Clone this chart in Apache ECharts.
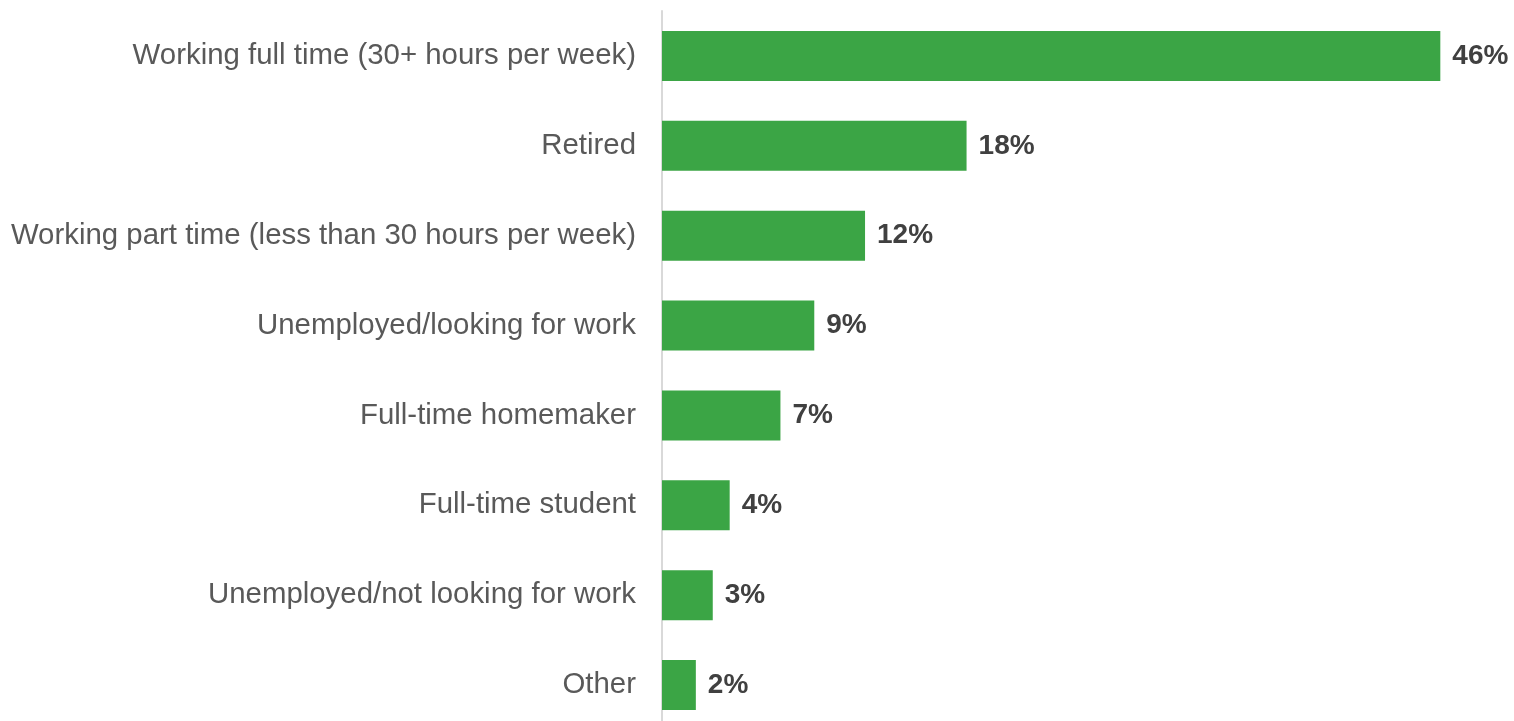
<!DOCTYPE html>
<html>
<head>
<meta charset="utf-8">
<script src="https://cdn.jsdelivr.net/npm/echarts@6/dist/echarts.min.js"></script>
<style>
  html, body { margin: 0; padding: 0; background: #ffffff; }
  #chart { width: 1514px; height: 721px; }
</style>
</head>
<body>
<div id="chart"></div>
<script>
// Employment status categories, top to bottom
const categories = [
  'Working full time (30+ hours per week)',
  'Retired',
  'Working part time (less than 30 hours per week)',
  'Unemployed/looking for work',
  'Full-time homemaker',
  'Full-time student',
  'Unemployed/not looking for work',
  'Other'
];
// Share of respondents, percent
const shares = [46, 18, 12, 9, 7, 4, 3, 2];

const chart = echarts.init(document.getElementById('chart'));
chart.setOption({
  animation: false,
  grid: { left: 662, top: 11, width: 846, height: 719, outerBoundsMode: 'none' },
  xAxis: {
    type: 'value',
    min: 0,
    max: 50,
    show: false
  },
  yAxis: {
    type: 'category',
    inverse: true,
    data: categories.slice(),
    axisLine: { show: true, lineStyle: { color: '#d9d9d9', width: 2 } },
    axisTick: { show: false },
    axisLabel: {
      margin: 26,
      fontFamily: 'Liberation Sans, Arial, sans-serif',
      fontSize: 29.4,
      color: '#595959'
    }
  },
  series: [{
    type: 'bar',
    data: shares.slice(),
    barWidth: 50,
    itemStyle: { color: '#3ba545' },
    label: {
      show: true,
      position: 'right',
      distance: 12,
      formatter: p => p.value + '%',
      fontFamily: 'Liberation Sans, Arial, sans-serif',
      fontSize: 28,
      fontWeight: 'bold',
      color: '#404040'
    }
  }]
});
</script>
</body>
</html>
